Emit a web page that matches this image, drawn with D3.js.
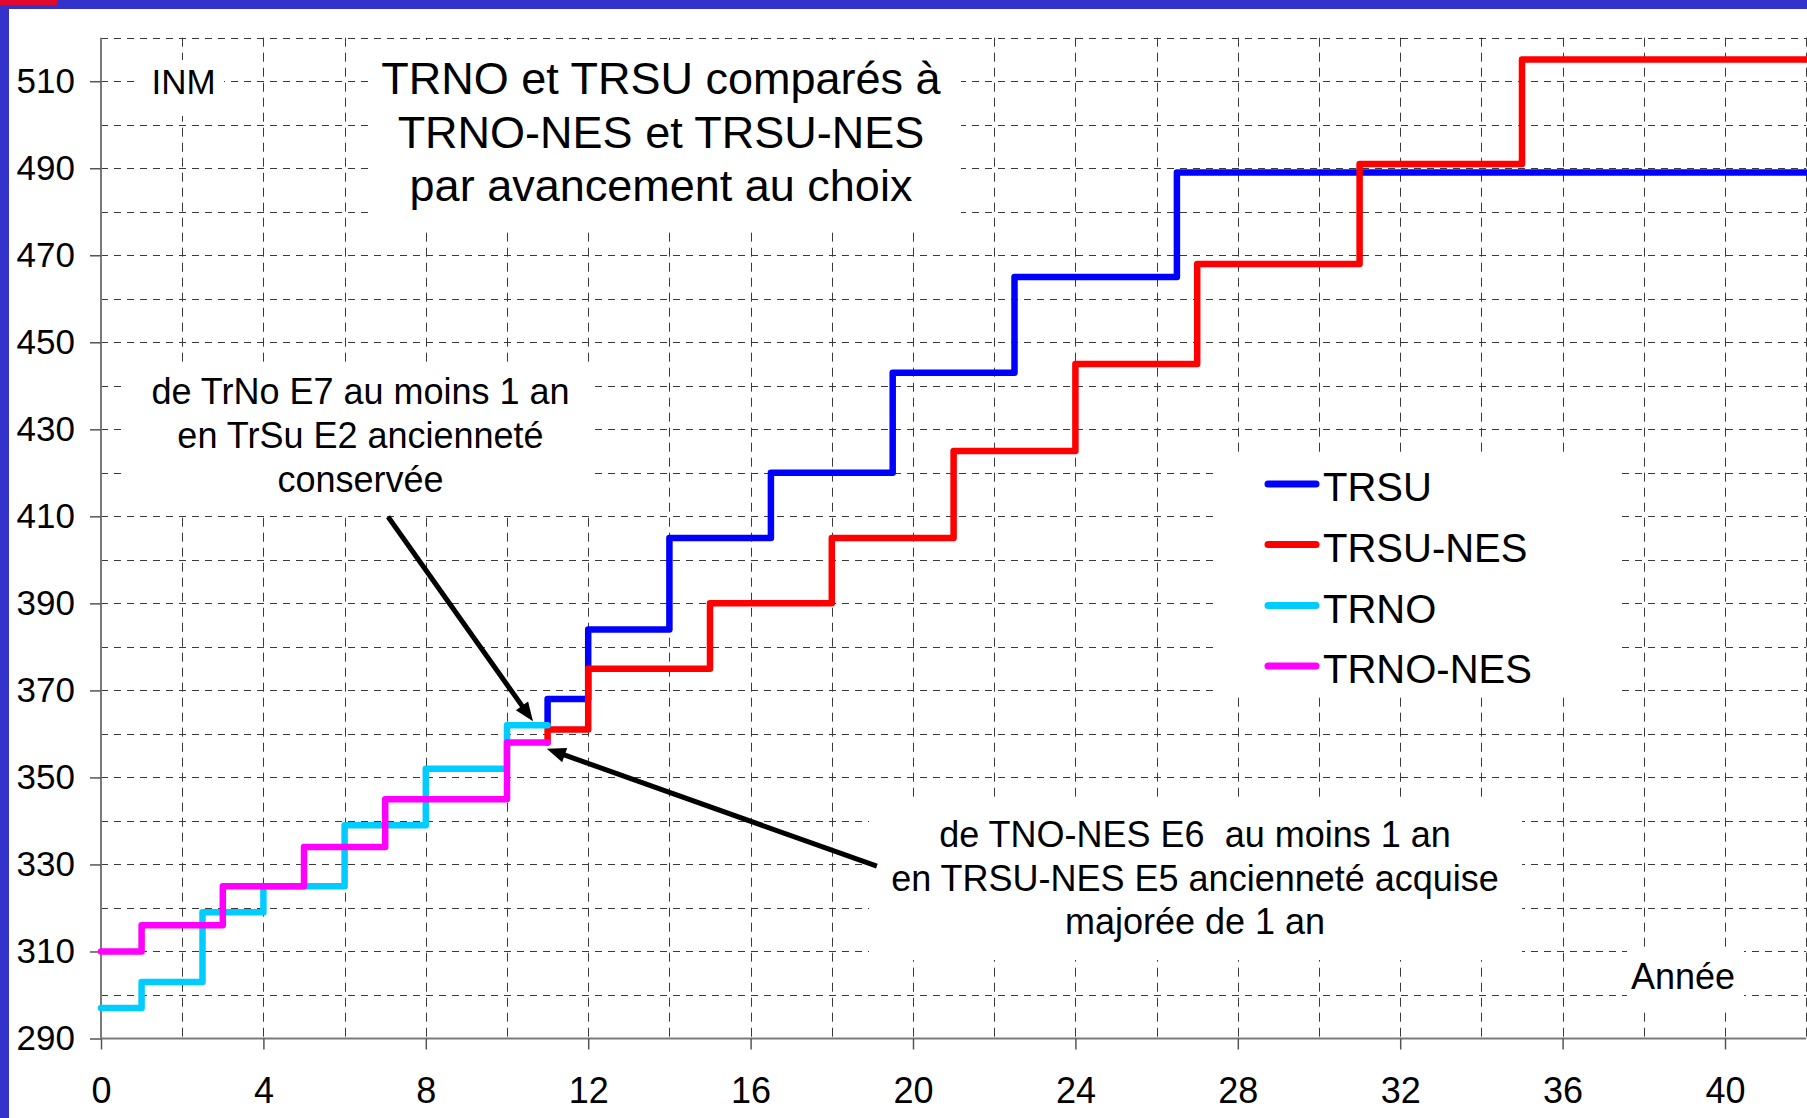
<!DOCTYPE html>
<html><head><meta charset="utf-8">
<script src="https://cdn.jsdelivr.net/npm/d3@7"></script>
<style>
html,body{margin:0;padding:0;background:#fff;overflow:hidden}
text{font-family:"Liberation Sans",Arial,Helvetica,sans-serif;fill:#000}
</style>
</head><body>
<svg id="chart" width="1807" height="1118"></svg>
<script>
// ---------- data ----------
const seriesNames  = ["TRSU", "TRSU-NES", "TRNO", "TRNO-NES"];
const seriesColors = ["#0000FF", "#FF0000", "#00CCFF", "#FF00FF"];

const trsuYears     = [11, 11, 12, 14, 16.5, 19.5, 22.5, 26.5, 42];
const trsuValues    = [362, 368, 384, 405, 420, 443, 465, 489, 489];
const trsuNesYears  = [11, 11, 12, 15, 18, 21, 24, 27, 31, 35, 42];
const trsuNesValues = [358, 361, 375, 390, 405, 425, 445, 468, 491, 515, 515];
const trnoYears     = [0, 1, 2.5, 4, 6, 8, 10, 11];
const trnoValues    = [297, 303, 319, 325, 339, 352, 362, 362];
const trnoNesYears  = [0, 1, 3, 5, 7, 10, 11];
const trnoNesValues = [310, 316, 325, 334, 345, 358, 358];

const xTickValues = [0, 4, 8, 12, 16, 20, 24, 28, 32, 36, 40];
const yTickValues = [290, 310, 330, 350, 370, 390, 410, 430, 450, 470, 490, 510];

const titleLines = ["TRNO et TRSU comparés à", "TRNO-NES et TRSU-NES", "par avancement au choix"];
const note1Lines = ["de TrNo E7 au moins 1 an", "en TrSu E2 ancienneté", "conservée"];
const note2Lines = ["de TNO-NES E6  au moins 1 an", "en TRSU-NES E5 ancienneté acquise", "majorée de 1 an"];
const cornerLabel = "INM";
const xAxisLabel = "Année";

// arrows in data units: [fromYear, fromValue, toYear, toValue]
const arrow1 = [7.07, 409.9, 10.64, 362.9];
const arrow2 = [19.11, 329.6, 10.98, 356.6];

// ---------- layout ----------
const W = 1807, H = 1118;
const svg = d3.select("#chart");
const x = d3.scaleLinear().domain([0, 42]).range([101, 1806.2]);
const y = d3.scaleLinear().domain([290, 520]).range([1038.5, 37.7]);

svg.append("rect").attr("width", W).attr("height", H).attr("fill", "#fff");

// grid
const grid = svg.append("g");
grid.selectAll("line.h").data(d3.range(300, 521, 10)).join("line")
  .attr("x1", x(0)).attr("x2", x(42))
  .attr("y1", d => Math.round(y(d)) + 0.5).attr("y2", d => Math.round(y(d)) + 0.5)
  .attr("stroke", "#3a3a3a").attr("stroke-width", 1).attr("stroke-dasharray", "7,6");
grid.selectAll("line.v").data(d3.range(2, 43, 2)).join("line")
  .attr("x1", d => Math.round(x(d)) + 0.5).attr("x2", d => Math.round(x(d)) + 0.5)
  .attr("y1", y(520)).attr("y2", y(290))
  .attr("stroke", "#3a3a3a").attr("stroke-width", 1).attr("stroke-dasharray", "9,6");

// white text boxes that mask the grid
const boxes = [
  [140, 60, 84, 56],      // INM
  [370, 40, 591, 187],    // title
  [125, 366, 469, 146],   // note 1
  [869, 802, 653, 158],   // note 2
  [1215, 455, 407, 242],  // legend
  [1627, 947, 117, 63]    // Année
];
svg.append("g").selectAll("rect").data(boxes).join("rect")
  .attr("x", d => d[0]).attr("y", d => d[1]).attr("width", d => d[2]).attr("height", d => d[3])
  .attr("fill", "#fff");

// axes
const xAxis = d3.axisBottom(x).tickValues(xTickValues).tickSize(11).tickPadding(28).tickFormat(d3.format("d"));
const gx = svg.append("g").attr("transform", `translate(0,${y(290)})`).call(xAxis);
gx.select(".domain").attr("stroke", "#7a7a7a").attr("stroke-width", 2).attr("d", `M${x(0)},0H${x(42)}`);
gx.selectAll(".tick line").attr("stroke", "#555").attr("stroke-width", 1.5);
gx.selectAll(".tick text").attr("font-size", 36).attr("font-family", "Liberation Sans, Arial, sans-serif").attr("fill", "#000");

const yAxis = d3.axisLeft(y).tickValues(yTickValues).tickSize(11).tickPadding(15).tickFormat(d3.format("d"));
const gy = svg.append("g").attr("transform", `translate(${x(0)},0)`).call(yAxis);
gy.select(".domain").attr("stroke", "#7a7a7a").attr("stroke-width", 2).attr("d", `M0,${y(520)}V${y(290)}`);
gy.selectAll(".tick line").attr("stroke", "#555").attr("stroke-width", 1.5);
gy.selectAll(".tick text").attr("font-size", 35).attr("font-family", "Liberation Sans, Arial, sans-serif").attr("fill", "#000");

// series
const series = [
  {name: seriesNames[0], color: seriesColors[0], xs: trsuYears, ys: trsuValues},
  {name: seriesNames[1], color: seriesColors[1], xs: trsuNesYears, ys: trsuNesValues},
  {name: seriesNames[2], color: seriesColors[2], xs: trnoYears, ys: trnoValues},
  {name: seriesNames[3], color: seriesColors[3], xs: trnoNesYears, ys: trnoNesValues}
];
const line = d3.line().x(d => x(d[0])).y(d => y(d[1])).curve(d3.curveStepAfter);
svg.append("g").selectAll("path").data(series).join("path")
  .attr("d", s => line(s.xs.map((v, i) => [v, s.ys[i]])))
  .attr("fill", "none").attr("stroke", s => s.color).attr("stroke-width", 6.5)
  .attr("stroke-linejoin", "round").attr("stroke-linecap", "round");

// texts
function lines(arr, cx, baseline, step, size) {
  svg.append("g").selectAll("text").data(arr).join("text")
    .attr("x", cx).attr("y", (d, i) => baseline + i * step)
    .attr("text-anchor", "middle").attr("font-size", size)
    .style("white-space", "pre").attr("xml:space", "preserve")
    .text(d => d);
}
lines(titleLines, 661, 94, 53.5, 45);
lines(note1Lines, 360.5, 404, 44, 36);
lines(note2Lines, 1195, 847, 43.5, 36);
lines([cornerLabel], 183.5, 94, 0, 35);
lines([xAxisLabel], 1683, 989, 0, 36);

// arrows
function arrow(a) {
  const x1 = x(a[0]), y1 = y(a[1]), x2 = x(a[2]), y2 = y(a[3]);
  const dx = x2 - x1, dy = y2 - y1, L = Math.hypot(dx, dy);
  const ux = dx / L, uy = dy / L, hl = 19, hw = 7.5;
  const bx = x2 - ux * hl, by = y2 - uy * hl;
  svg.append("line").attr("x1", x1).attr("y1", y1).attr("x2", bx + ux * 2).attr("y2", by + uy * 2)
    .attr("stroke", "#000").attr("stroke-width", 5);
  svg.append("path")
    .attr("d", `M${x2},${y2}L${bx - uy * hw},${by + ux * hw}L${bx + uy * hw},${by - ux * hw}Z`)
    .attr("fill", "#000");
}
arrow(arrow1);
arrow(arrow2);

// legend
const legY = [484, 544.5, 605.5, 666];
const leg = svg.append("g").selectAll("g").data(series).join("g")
  .attr("transform", (d, i) => `translate(0,${legY[i]})`);
leg.append("line").attr("x1", 1268).attr("x2", 1316).attr("y1", 0).attr("y2", 0)
  .attr("stroke", d => d.color).attr("stroke-width", 7).attr("stroke-linecap", "round");
leg.append("text").attr("x", 1323).attr("y", 17).attr("font-size", 40).text(d => d.name);

// frame decoration
svg.append("rect").attr("x", 0).attr("y", 0).attr("width", W).attr("height", 9).attr("fill", "#3333CC");
svg.append("rect").attr("x", 0).attr("y", 0).attr("width", 9).attr("height", H).attr("fill", "#3333CC");
svg.append("rect").attr("x", 0).attr("y", 0).attr("width", 57).attr("height", 5).attr("fill", "#E0082C");
</script>
</body></html>
